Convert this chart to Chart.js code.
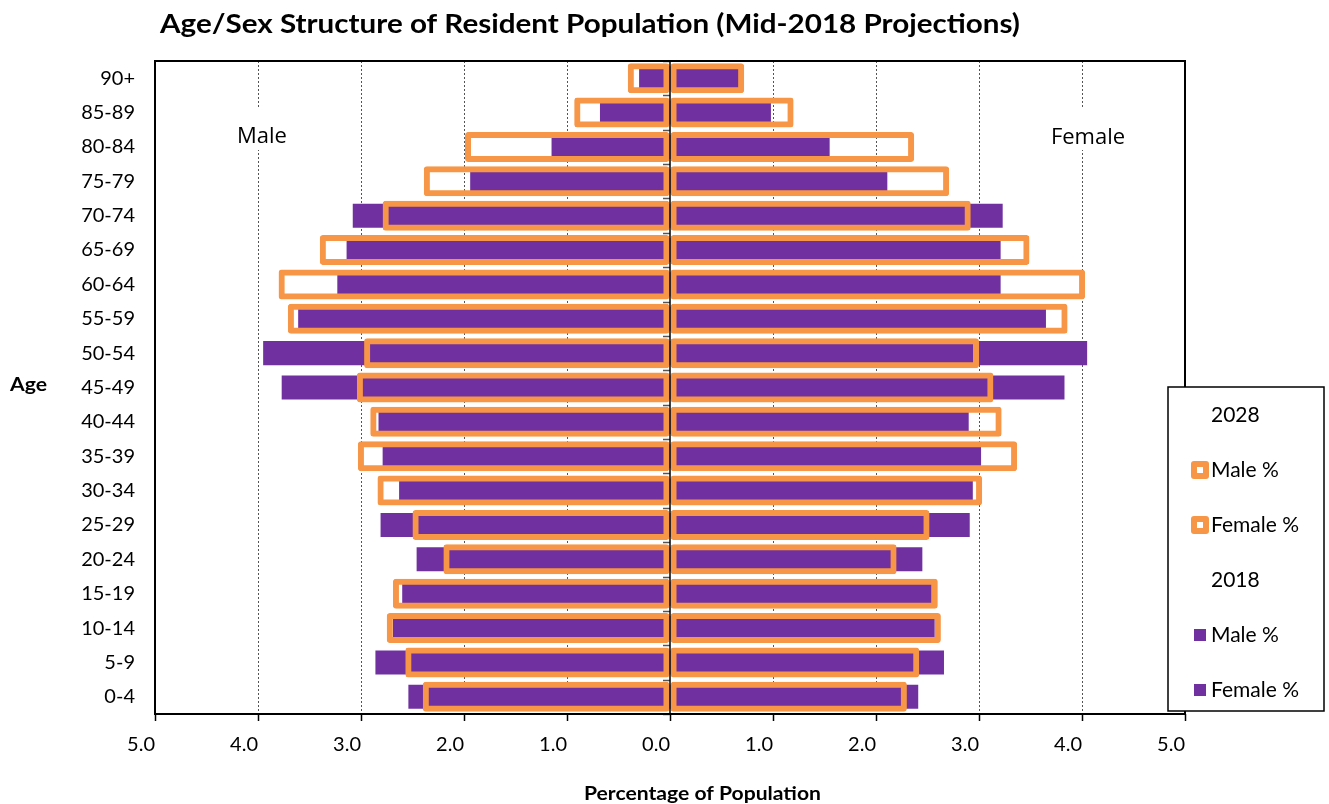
<!DOCTYPE html>
<html>
<head>
<meta charset="utf-8">
<title>Age/Sex Structure of Resident Population</title>
<script src="https://cdn.jsdelivr.net/npm/chart.js@4.4.1/dist/chart.umd.min.js"></script>
<style>
  html, body { margin: 0; padding: 0; background: #fff; }
  #wrap { position: relative; width: 1329px; height: 804px; }
</style>
</head>
<body>
<div id="wrap"><canvas id="pyramid"></canvas></div>
<script>
// age bands, bottom to top
const ageGroups = ['0-4', '5-9', '10-14', '15-19', '20-24', '25-29', '30-34', '35-39', '40-44', '45-49',
  '50-54', '55-59', '60-64', '65-69', '70-74', '75-79', '80-84', '85-89', '90+'];

// % of population
const male2018 = [2.54, 2.86, 2.69, 2.60, 2.46, 2.81, 2.63, 2.79, 2.83, 3.77, 3.95, 3.61, 3.23, 3.14, 3.08, 1.94, 1.15, 0.68, 0.30];
const female2018 = [2.41, 2.66, 2.57, 2.54, 2.45, 2.91, 2.94, 3.02, 2.90, 3.83, 4.05, 3.65, 3.21, 3.21, 3.23, 2.11, 1.55, 0.98, 0.67];
const male2028 = [2.40, 2.57, 2.75, 2.69, 2.20, 2.50, 2.84, 3.03, 2.91, 3.04, 2.97, 3.71, 3.80, 3.40, 2.79, 2.39, 1.99, 0.93, 0.41];
const female2028 = [2.30, 2.42, 2.63, 2.60, 2.20, 2.52, 3.03, 3.37, 3.22, 3.14, 3.00, 3.86, 4.03, 3.49, 2.92, 2.71, 2.37, 1.20, 0.72];

const xTicks = [-5, -4, -3, -2, -1, 0, 1, 2, 3, 4, 5];

const ORANGE = '#F79646';
const PURPLE = '#7030A0';
const tickFont = { family: 'Lato', size: 20 };

// text squeezed/stretched to a given width (the source font is a condensed one)
function fitText(ctx, text, x, y, width, font) {
  ctx.save();
  ctx.font = font;
  ctx.textAlign = 'left';
  ctx.textBaseline = 'alphabetic';
  const w = ctx.measureText(text).width;
  ctx.translate(x, y);
  ctx.scale(width / w, 1);
  ctx.fillText(text, 0, 0);
  ctx.restore();
}

const decor = {
  id: 'decor',
  beforeDatasetsDraw(chart) {
    // Male / Female captions sit on white boxes over the grid
    const { ctx, scales: { x } } = chart;
    ctx.save();
    ctx.font = '22px "Open Sans"';
    ctx.textAlign = 'center';
    ctx.textBaseline = 'middle';
    [['Male', -4, 4, 130], ['Female', 4, 6, 131]].forEach(([txt, v, dx, cy]) => {
      const cx = x.getPixelForValue(v) + dx;
      const w = ctx.measureText(txt).width + 12;
      ctx.fillStyle = '#fff';
      ctx.fillRect(cx - w / 2, 109, w, 41);
      ctx.fillStyle = '#000';
      ctx.fillText(txt, cx, cy + 7);
    });
    ctx.restore();
  },
  afterDatasetsDraw(chart) {
    const { ctx, chartArea: a, scales: { x, y } } = chart;
    const x0 = x.getPixelForValue(0);
    ctx.save();
    // small marks on the zero line between age bands
    ctx.strokeStyle = '#555';
    ctx.lineWidth = 1.5;
    for (let i = 0; i <= ageGroups.length; i++) {
      const yy = Math.round(y.getPixelForValue(i - 0.5)) + 0.5;
      ctx.beginPath(); ctx.moveTo(x0 - 7, yy); ctx.lineTo(x0, yy); ctx.stroke();
    }
    ctx.strokeStyle = '#000';
    ctx.lineWidth = 1.5;
    ctx.beginPath(); ctx.moveTo(x0, a.top); ctx.lineTo(x0, a.bottom); ctx.stroke();
    ctx.lineWidth = 2;
    ctx.strokeRect(a.left, a.top, a.right - a.left, a.bottom - a.top);
    ctx.restore();
  },
  afterDraw(chart) {
    const ctx = chart.ctx;
    const ds = chart.data.datasets;
    ctx.save();
    ctx.fillStyle = '#000';
    fitText(ctx, 'Age/Sex Structure of Resident Population (Mid-2018 Projections)', 160, 33, 860, 'bold 27px Lato');
    fitText(ctx, 'Age', 10, 391, 37, 'bold 18px Lato');
    fitText(ctx, 'Percentage of Population', 584, 800, 237, 'bold 18px Lato');

    // legend with year headings
    const lx = 1168, ly = 387, lw = 156, lh = 324;
    ctx.fillStyle = '#fff';
    ctx.fillRect(lx, ly, lw, lh);
    ctx.strokeStyle = '#000';
    ctx.lineWidth = 1.5;
    ctx.strokeRect(lx, ly, lw, lh);
    const rows = [{ head: '2028' }, { ds: ds[0] }, { ds: ds[1] }, { head: '2018' }, { ds: ds[2] }, { ds: ds[3] }];
    ctx.font = '21px Lato';
    ctx.textAlign = 'left';
    ctx.textBaseline = 'middle';
    rows.forEach((r, i) => {
      const cy = ly + 28 + i * 55;
      ctx.fillStyle = '#000';
      if (r.head) { ctx.fillText(r.head, lx + 43, cy); return; }
      ctx.fillText(r.ds.label, lx + 43, cy);
      if (r.ds.borderWidth) {
        ctx.fillStyle = r.ds.borderColor;
        ctx.beginPath(); ctx.roundRect(lx + 23, cy - 9, 18, 18, 3); ctx.fill();
        ctx.fillStyle = '#fff';
        ctx.fillRect(lx + 29, cy - 3, 6, 6);
      } else {
        ctx.fillStyle = r.ds.backgroundColor;
        ctx.fillRect(lx + 26, cy - 6, 12, 12);
      }
    });
    ctx.restore();
  }
};

const outlineBar = { backgroundColor: 'rgba(0,0,0,0)', borderColor: ORANGE, borderWidth: 6, borderSkipped: false,
  borderRadius: 3, barPercentage: 0.873, categoryPercentage: 1, grouped: false };
const solidBar = { borderWidth: 0, barPercentage: 0.7, categoryPercentage: 1, grouped: false };

new Chart(document.getElementById('pyramid'), {
  type: 'bar',
  data: {
    labels: ageGroups,
    datasets: [
      { label: 'Male %', data: male2028.map(v => -v), ...outlineBar },
      { label: 'Female %', data: female2028, ...outlineBar },
      { label: 'Male %', data: male2018.map(v => -v), backgroundColor: PURPLE, ...solidBar },
      { label: 'Female %', data: female2018, backgroundColor: PURPLE, ...solidBar }
    ]
  },
  options: {
    indexAxis: 'y',
    responsive: true,
    maintainAspectRatio: false,
    animation: false,
    layout: { padding: { top: 61, right: 144, left: 0, bottom: 0 } },
    plugins: { legend: { display: false }, title: { display: false }, tooltip: { enabled: false } },
    scales: {
      x: {
        type: 'linear', min: -5, max: 5,
        afterFit: s => { s.height = 90; },
        afterBuildTicks: s => { s.ticks = xTicks.map(v => ({ value: v })); },
        ticks: { callback: v => Math.abs(v).toFixed(1), align: 'end', color: '#000', font: tickFont, padding: 12 },
        grid: {
          color: c => (c.tick && (c.tick.value === 0 || Math.abs(c.tick.value) === 5)) ? 'rgba(0,0,0,0)' : '#555',
          lineWidth: 1, tickLength: 7, tickColor: '#000', tickWidth: 1.5
        },
        border: { display: false, dash: [2, 2] }
      },
      y: {
        type: 'category', reverse: true,
        afterFit: s => { s.width = 155; },
        ticks: { autoSkip: false, color: '#000', font: tickFont, padding: 20 },
        grid: { display: false, drawTicks: false },
        border: { display: false }
      }
    }
  },
  plugins: [decor]
});
</script>
</body>
</html>
